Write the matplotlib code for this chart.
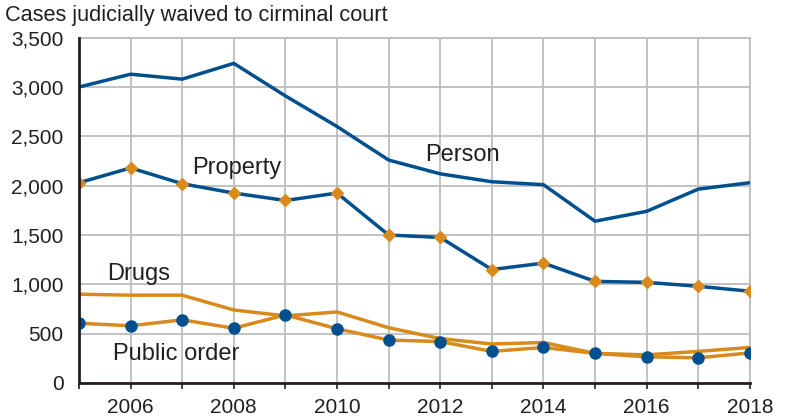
import matplotlib.pyplot as plt
from matplotlib.ticker import FuncFormatter, MultipleLocator

plt.rcParams['font.family'] = ['Liberation Sans', 'DejaVu Sans']

years = list(range(2005, 2019))
person = [3000, 3130, 3080, 3240, 2910, 2600, 2260, 2120, 2040, 2010, 1640, 1740, 1965, 2030]
property_ = [2030, 2180, 2020, 1925, 1850, 1925, 1500, 1475, 1150, 1215, 1030, 1020, 980, 930]
drugs = [900, 890, 890, 740, 680, 720, 560, 450, 395, 410, 300, 285, 320, 360]
public_order = [605, 580, 640, 555, 690, 550, 435, 420, 320, 360, 300, 265, 255, 305]

blue = '#00508f'
orange = '#d98a1c'
grid = '#bdbdbd'
text = '#231f20'

fig = plt.figure(figsize=(7.86, 4.19), dpi=100)
ax = fig.add_axes([0.1005, 0.086, 0.8535, 0.824])

ax.plot(years, person, color=blue, lw=2.5, zorder=3)
ax.plot(years, drugs, color=orange, lw=2.5, zorder=3)
ax.plot(years, property_, color=blue, lw=2.5, zorder=3,
        marker='D', markersize=6.5, markerfacecolor=orange, markeredgecolor=orange)
ax.plot(years, public_order, color=orange, lw=2.5, zorder=3,
        marker='o', markersize=8, markerfacecolor=blue, markeredgecolor=blue)

ax.set_xlim(2005, 2018)
ax.set_ylim(0, 3500)
ax.xaxis.set_major_locator(MultipleLocator(2))
ax.xaxis.set_minor_locator(MultipleLocator(1))
ax.yaxis.set_major_locator(MultipleLocator(500))
ax.yaxis.set_major_formatter(FuncFormatter(lambda v, p: f'{int(v):,}'))

ax.grid(True, which='both', axis='x', color=grid, lw=1.3, zorder=1)
ax.grid(True, which='major', axis='y', color=grid, lw=1.3, zorder=1)

ax.tick_params(axis='x', which='both', length=4, width=1.2, color=text,
               labelsize=15, labelcolor=text, pad=7)
ax.tick_params(axis='y', length=0, labelsize=15, labelcolor=text, pad=11)

for side in ('top', 'right'):
    ax.spines[side].set_color(grid)
    ax.spines[side].set_linewidth(1.3)
for side in ('left', 'bottom'):
    ax.spines[side].set_color(text)
    ax.spines[side].set_linewidth(2)
    ax.spines[side].set_zorder(4)

# series labels placed beside their lines
ax.text(2007.2, 2175, 'Property', fontsize=17, color=text, ha='left', va='center')
ax.text(2011.7, 2310, 'Person', fontsize=17, color=text, ha='left', va='center')
ax.text(2005.55, 1100, 'Drugs', fontsize=17, color=text, ha='left', va='center')
ax.text(2005.65, 290, 'Public order', fontsize=17, color=text, ha='left', va='center')

fig.text(5 / 786, 1 - 15 / 419, 'Cases judicially waived to cirminal court',
         fontsize=15.7, color=text, ha='left', va='center')

fig.savefig('out.png', dpi=100)
